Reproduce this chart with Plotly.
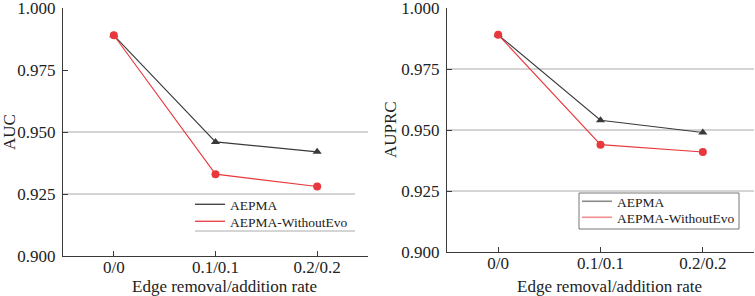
import plotly.graph_objects as go

categories = ["0/0", "0.1/0.1", "0.2/0.2"]
auc_aepma = [0.989, 0.946, 0.942]
auc_without = [0.989, 0.933, 0.928]
auprc_aepma = [0.989, 0.954, 0.949]
auprc_without = [0.989, 0.944, 0.941]
series_names = ["AEPMA", "AEPMA-WithoutEvo"]
y_ticks = [0.900, 0.925, 0.950, 0.975, 1.000]

W, H = 755, 296
DARK = "#3a3a3a"
RED = "#e8383d"
FONT = "Liberation Serif"

fig = go.Figure()

def add_series(xa, ya, yvals, color, symbol):
    fig.add_trace(go.Scatter(
        x=categories, y=yvals, mode="lines+markers", xaxis=xa, yaxis=ya,
        line=dict(color=color, width=1.1),
        marker=dict(color=color, symbol=symbol, size=8),
        showlegend=False, hoverinfo="skip"))

add_series("x", "y", auc_aepma, DARK, "triangle-up")
add_series("x", "y", auc_without, RED, "circle")
add_series("x2", "y2", auprc_aepma, DARK, "triangle-up")
add_series("x2", "y2", auprc_without, RED, "circle")

# legend-only line samples, one legend per row so row spacing can match
left_cols = [DARK, RED]
right_cols = ["#8a8a8a", "#f09090"]
legend_ids = ["legend", "legend2", "legend3", "legend4"]
for i, (name, col) in enumerate(zip(series_names, left_cols)):
    fig.add_trace(go.Scatter(x=[None], y=[None], mode="lines", name=name,
                             line=dict(color=col, width=1.3), legend=legend_ids[i],
                             xaxis="x", yaxis="y"))
for i, (name, col) in enumerate(zip(series_names, right_cols)):
    fig.add_trace(go.Scatter(x=[None], y=[None], mode="lines", name=name,
                             line=dict(color=col, width=1.6), legend=legend_ids[2 + i],
                             xaxis="x2", yaxis="y2"))

def px_x(p):
    return p / W

def px_y(p):
    return 1 - p / H

axis_font = dict(family=FONT, size=17, color="#222")
xcommon = dict(type="category", range=[-0.5, 2.5], showgrid=False, zeroline=False,
               showline=True, linecolor=DARK, linewidth=1, ticks="inside", ticklen=5,
               tickcolor=DARK, tickfont=axis_font, fixedrange=True, automargin=False,
               ticklabeloverflow="allow", ticklabelstandoff=-4)
ycommon = dict(range=[0.9, 1.0], showgrid=False, zeroline=False, showline=True,
               linecolor=DARK, linewidth=1, ticks="inside", ticklen=5, tickcolor=DARK,
               tickmode="array", tickvals=y_ticks, ticktext=[f"{v:.3f}" for v in y_ticks],
               tickfont=axis_font, ticklabelstandoff=3, automargin=False,
               ticklabeloverflow="allow")

leg_font = dict(family=FONT, size=13.5, color="#222")

def leg(xp, yp):
    return dict(x=px_x(xp), y=px_y(yp), xanchor="left", yanchor="top",
                bgcolor="rgba(0,0,0,0)", borderwidth=0, font=leg_font,
                tracegroupgap=0, itemwidth=30)

fig.update_layout(
    width=W, height=H, margin=dict(l=0, r=0, t=0, b=0, autoexpand=False),
    font=dict(family=FONT, size=16, color="#222"),
    paper_bgcolor="white", plot_bgcolor="white",
    xaxis=dict(xcommon, domain=[px_x(63), px_x(368)], anchor="y"),
    yaxis=dict(ycommon, domain=[px_y(256), px_y(8)], anchor="x"),
    xaxis2=dict(xcommon, domain=[px_x(447), px_x(754)], anchor="y2"),
    yaxis2=dict(ycommon, domain=[px_y(252), px_y(8)], anchor="x2"),
    legend=leg(190, 189),
    legend2=leg(190, 206),
    legend3=leg(577, 186),
    legend4=leg(577, 202),
)

GRID = "#aaaaaa"
shapes = []
shapes.append(dict(type="line", xref="x domain", yref="y", x0=0, x1=1, y0=0.95, y1=0.95,
                   line=dict(color=GRID, width=1), layer="below"))
shapes.append(dict(type="line", xref="x domain", yref="y", x0=0, x1=(355 - 63) / 305,
                   y0=0.925, y1=0.925, line=dict(color=GRID, width=1), layer="below"))
shapes.append(dict(type="line", xref="paper", yref="paper", x0=px_x(195), x1=px_x(355),
                   y0=px_y(231), y1=px_y(231), line=dict(color=GRID, width=1)))
for v in [0.975, 0.95, 0.925]:
    shapes.append(dict(type="line", xref="x2 domain", yref="y2", x0=0, x1=1, y0=v, y1=v,
                       line=dict(color=GRID, width=1), layer="below"))
shapes.append(dict(type="rect", xref="paper", yref="paper", x0=px_x(579), x1=px_x(739),
                   y0=px_y(229), y1=px_y(193), fillcolor="white",
                   line=dict(color="#777777", width=1), layer="above"))
fig.update_layout(shapes=shapes)

title_font = dict(family=FONT, size=17, color="#222")
fig.update_layout(annotations=[
    dict(text="Edge removal/addition rate", xref="x domain", yref="paper", x=0.53,
         y=px_y(286), showarrow=False, font=title_font, xanchor="center", yanchor="middle"),
    dict(text="Edge removal/addition rate", xref="x2 domain", yref="paper", x=0.53,
         y=px_y(286), showarrow=False, font=title_font, xanchor="center", yanchor="middle"),
    dict(text="AUC", xref="paper", yref="y domain", x=px_x(9), y=0.5, textangle=-90,
         showarrow=False, font=title_font, xanchor="center", yanchor="middle"),
    dict(text="AUPRC", xref="paper", yref="y2 domain", x=px_x(391), y=0.5, textangle=-90,
         showarrow=False, font=title_font, xanchor="center", yanchor="middle"),
])

fig.write_html("out.html")
